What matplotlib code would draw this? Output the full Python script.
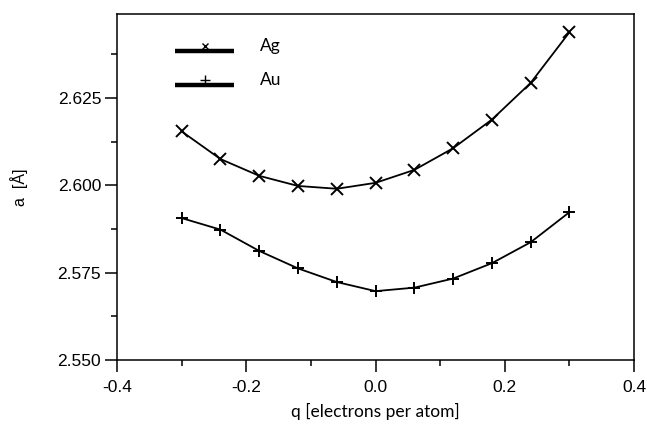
import matplotlib
matplotlib.use("Agg")
import matplotlib.pyplot as plt
from matplotlib.lines import Line2D
from matplotlib.legend_handler import HandlerBase
from matplotlib.ticker import MultipleLocator, FormatStrFormatter

# Lattice constant versus excess charge
q = [-0.30, -0.24, -0.18, -0.12, -0.06, 0.00, 0.06, 0.12, 0.18, 0.24, 0.30]
a_ag = [2.6154, 2.6075, 2.6027, 2.5998, 2.5990, 2.6007, 2.6044, 2.6106, 2.6188, 2.6293, 2.6438]
a_au = [2.5906, 2.5873, 2.5812, 2.5762, 2.5723, 2.5697, 2.5707, 2.5733, 2.5777, 2.5837, 2.5923]
series_labels = ["Ag", "Au"]
x_ticks = [-0.4, -0.2, 0.0, 0.2, 0.4]
y_ticks = [2.550, 2.575, 2.600, 2.625]

plt.rcParams['font.family'] = ['Liberation Sans', 'DejaVu Sans']


class RaisedMarkerHandler(HandlerBase):
    """Thick legend line with a small marker sitting just above it."""

    def __init__(self, marker, msize, **kw):
        super().__init__(**kw)
        self.marker = marker
        self.msize = msize

    def create_artists(self, legend, orig_handle, xdescent, ydescent,
                       width, height, fontsize, trans):
        y0 = -ydescent
        ln = Line2D([-xdescent, width - xdescent], [y0, y0], color='black',
                    lw=3.2, solid_capstyle='butt', transform=trans)
        mk = Line2D([(width - xdescent) * 0.5], [y0 + 3.8], marker=self.marker,
                    ms=self.msize, mew=1.0, color='black', ls='none',
                    transform=trans)
        return [ln, mk]


fig = plt.figure(figsize=(6.47, 4.26), dpi=100)
ax = fig.add_axes([0.181, 0.155, 0.799, 0.812])

ax.plot(q, a_ag, color='black', lw=1.3, marker='x', ms=8, mew=1.4)
ax.plot(q, a_au, color='black', lw=1.3, marker='+', ms=9, mew=1.4)

ax.set_xlim(-0.4, 0.4)
ax.set_ylim(2.55, 2.649)
ax.set_xticks(x_ticks)
ax.set_yticks(y_ticks)
ax.xaxis.set_minor_locator(MultipleLocator(0.1))
ax.yaxis.set_minor_locator(MultipleLocator(0.0125))
ax.xaxis.set_major_formatter(FormatStrFormatter('%.1f'))
ax.yaxis.set_major_formatter(FormatStrFormatter('%.3f'))
ax.tick_params(which='major', direction='out', length=8.5, width=1.1,
               labelsize=12.5, pad=3)
ax.tick_params(axis='x', which='major', pad=6)
ax.tick_params(which='minor', direction='out', length=4.2, width=1.1)
for s in ax.spines.values():
    s.set_linewidth(1.1)

ax.set_xlabel('q [electrons per atom]', fontsize=12.5, family=['Lato', 'DejaVu Sans'],
              labelpad=6)
ax.set_ylabel('a  [Å]', fontsize=11.5, labelpad=21)

h_ag = Line2D([], [], color='black')
h_au = Line2D([], [], color='black')
ax.legend([h_ag, h_au], series_labels, loc='upper left',
          bbox_to_anchor=(0.082, 0.975), frameon=False,
          prop={'family': ['Lato', 'DejaVu Sans'], 'size': 12.5},
          handlelength=3.4, handletextpad=1.5, labelspacing=1.02,
          handler_map={h_ag: RaisedMarkerHandler('x', 5),
                       h_au: RaisedMarkerHandler('+', 6.5)})

fig.savefig('out.png', dpi=100)
